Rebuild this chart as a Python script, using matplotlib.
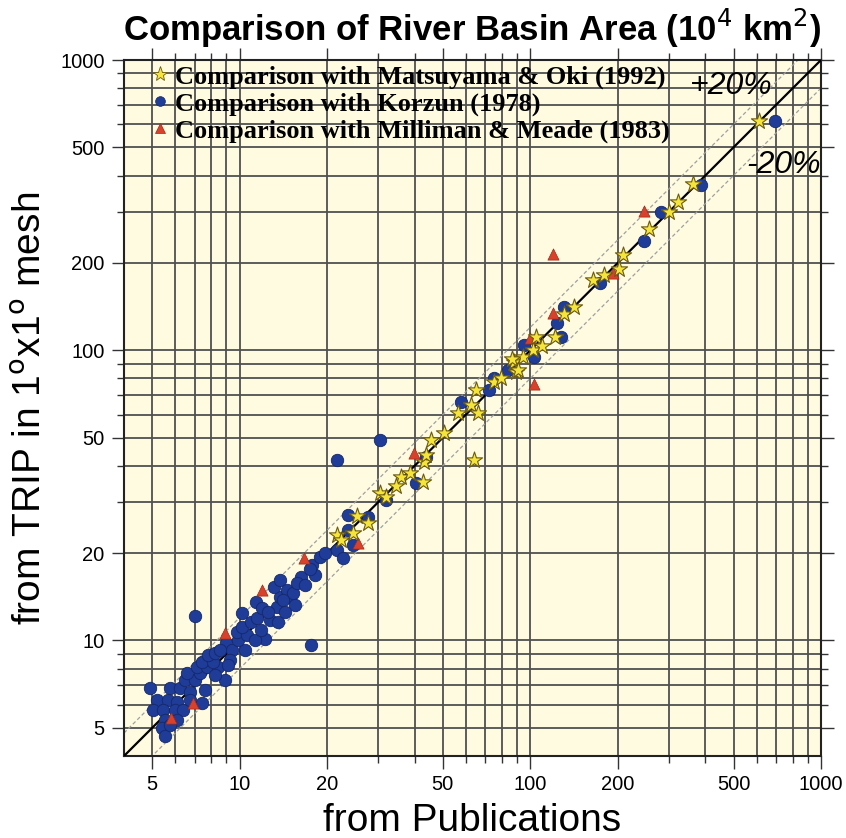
import matplotlib
matplotlib.use('Agg')
import matplotlib.pyplot as plt
from matplotlib.ticker import FixedLocator, FixedFormatter, NullFormatter
from matplotlib.lines import Line2D
import numpy as np

# ---------------- data (10^4 km^2) ----------------
korzun_pub = [4.92, 5.2, 5.65, 6.1, 5.03, 5.43, 6.0, 6.4, 7.43, 5.54, 6.1, 5.4, 5.54,
              5.77, 6.24, 6.76, 6.49, 7.03, 8.92, 6.6, 7.31, 7.14, 7.73, 8.4, 7.43, 8.1,
              7.8, 8.24, 9.0, 9.43, 10.46, 9.9, 9.8, 10.6, 10.2, 10.2, 10.9, 11.5, 12.25,
              12.75, 13.5, 11.4, 11.9, 13.4, 13.8, 14.94, 13.1, 13.8, 14.6, 16.2, 18.2,
              17.8, 18.96, 21.7, 22.7, 23.5, 23.5, 7.03, 17.6, 21.6, 30.5, 15.2, 15.8,
              16.8, 9.28, 8.57, 11.3, 11.8, 14.1, 15.55, 6.76, 7.6, 8.24, 9.1, 5.77,
              12.5, 14.36, 27.7, 24.5, 40.3, 57.7, 72, 84, 95, 127, 124, 131, 173, 246,
              282, 385, 692, 43.6, 31.8, 103, 75, 17.5, 19.7]
korzun_trip = [6.87, 6.24, 6.24, 6.14, 5.77, 5.77, 5.77, 5.77, 6.1, 5.32, 5.32, 5.0, 4.7,
               6.87, 6.87, 6.65, 7.31, 7.31, 7.31, 7.73, 7.73, 8.1, 8.1, 8.1, 8.44, 8.44,
               8.92, 9.07, 9.8, 9.28, 9.28, 10.05, 10.7, 10.46, 11.15, 12.45, 11.6, 12.0,
               10.1, 11.8, 11.6, 13.6, 12.95, 13.06, 14.1, 14.1, 15.3, 16.2, 14.94, 16.55,
               16.8, 18.2, 19.4, 20.5, 19.2, 24.1, 27.1, 12.1, 9.66, 41.9, 49.2, 14.6,
               15.8, 15.55, 8.57, 9.28, 10.05, 10.88, 13.8, 13.27, 6.24, 6.76, 7.61, 8.24,
               5.11, 12.5, 12.5, 26.7, 21.4, 34.9, 66.1, 73.1, 85.7, 104, 111, 124, 141,
               170, 237, 299, 370, 614, 42.9, 30.5, 95, 80, 17.6, 20.0]

milliman_pub = [6.9, 8.92, 11.9, 16.6, 25.6, 39.8, 103, 120, 120, 193, 246, 100, 5.8]
milliman_trip = [6.1, 10.6, 14.9, 19.2, 21.7, 44.3, 76.4, 134, 214, 184, 301, 110, 5.4]

matsuyama_pub = [21.6, 24.6, 25.4, 27.7, 30.5, 31.8, 35.8, 38.7, 42.6, 42.9, 43.6, 45.4,
                 50.4, 56.3, 62.4, 66, 64.9, 63.9, 74.9, 79.2, 87.8, 89.2, 94.3, 102,
                 104.6, 110, 122, 131, 141, 164, 179, 202, 208, 256, 300, 323, 364, 610,
                 22.4, 86.5, 91, 34.5]
matsuyama_trip = [23.1, 23.5, 26.9, 25.4, 32.3, 31.2, 36.6, 37.9, 35.2, 41.2, 43.6, 49.2,
                  52, 61, 64.6, 61, 73.1, 41.9, 78, 80, 91.4, 84.4, 95, 100.5,
                  111.4, 103.5, 111.4, 133, 141, 175, 182, 190, 213, 261, 299, 325, 373, 614,
                  22.2, 93, 85.7, 34.0]

axis_min, axis_max = 4, 1000
major_ticks = [5, 10, 20, 50, 100, 200, 500, 1000]
major_labels = ['5', '10', '20', '50', '100', '200', '500', '1000']
minor_ticks = [6, 7, 8, 9, 30, 40, 60, 70, 80, 90, 300, 400, 600, 700, 800, 900]
band_factors = [1.2, 0.8]

# ---------------- figure ----------------
sans = 'Liberation Sans'
serif = 'Liberation Serif'
fig = plt.figure(figsize=(8.46, 8.38), dpi=100)
ax = fig.add_axes([124 / 846, 82 / 838, 697 / 846, 696 / 838])
ax.set_facecolor('#FEFBE1')
ax.set_xscale('log')
ax.set_yscale('log')
ax.set_xlim(axis_min, axis_max)
ax.set_ylim(axis_min, axis_max)

for axis in (ax.xaxis, ax.yaxis):
    axis.set_major_locator(FixedLocator(major_ticks))
    axis.set_major_formatter(FixedFormatter(major_labels))
    axis.set_minor_locator(FixedLocator(minor_ticks))
    axis.set_minor_formatter(NullFormatter())

ax.grid(True, which='both', color='#505050', linewidth=1.3, zorder=0)
ax.set_axisbelow(True)
ax.tick_params(which='both', direction='out', top=True, right=True, color='#333333')
ax.tick_params(which='major', length=9, width=1.0, labelsize=14.5, pad=5)
ax.tick_params(which='minor', length=5, width=1.0)
for lab in ax.get_xticklabels() + ax.get_yticklabels():
    lab.set_fontfamily(sans)
for sp in ax.spines.values():
    sp.set_linewidth(1.5)
    sp.set_color('#222222')

# reference lines
ref = np.array([axis_min, axis_max])
ax.plot(ref, ref, color='black', linewidth=1.6, zorder=3)
for f in band_factors:
    ax.plot(ref, ref * f, color='#a0a0a0', linewidth=0.9, linestyle=(0, (3, 2)), zorder=2)

# data
ax.scatter(korzun_pub, korzun_trip, s=80, marker='o', facecolor='#1E3C98',
           edgecolor='#15286a', linewidth=0.6, zorder=4)
ax.scatter(milliman_pub, milliman_trip, s=65, marker='^', facecolor='#D9412B',
           edgecolor='#9a2a1a', linewidth=0.5, zorder=5)
ax.scatter(matsuyama_pub, matsuyama_trip, s=150, marker='*', facecolor='#F5E43A',
           edgecolor='#6b5a10', linewidth=0.8, zorder=6)

ax.text(490, 816, '+20%', fontsize=23, style='italic', family=sans,
        ha='center', va='center', zorder=7)
ax.text(743, 436, '-20%', fontsize=23, style='italic', family=sans,
        ha='center', va='center', zorder=7)

handles = [
    Line2D([], [], linestyle='none', marker='*', markersize=11, markerfacecolor='#F5E43A',
           markeredgecolor='#6b5a10', markeredgewidth=0.6),
    Line2D([], [], linestyle='none', marker='o', markersize=7, markerfacecolor='#1E3C98',
           markeredgecolor='#15286a', markeredgewidth=0.5),
    Line2D([], [], linestyle='none', marker='^', markersize=7, markerfacecolor='#D9412B',
           markeredgecolor='#9a2a1a', markeredgewidth=0.5),
]
labels = ['Comparison with Matsuyama & Oki (1992)',
          'Comparison with Korzun (1978)',
          'Comparison with Milliman & Meade (1983)']
ax.legend(handles, labels, loc='upper left', bbox_to_anchor=(0.0367, 0.997),
          frameon=False, handlelength=0.6, handletextpad=0.25, labelspacing=0.12,
          borderpad=0.1, borderaxespad=0,
          prop={'family': serif, 'weight': 'bold', 'size': 19})

ax.set_xlabel('from Publications', fontsize=28, family=sans, labelpad=6)
ax.set_ylabel('from TRIP in 1$^\\mathrm{o}$x1$^\\mathrm{o}$ mesh', fontsize=28,
              family=sans, labelpad=8)
fig.text(ax.get_position().x0 + ax.get_position().width / 2, 1 - 28 / 838,
         'Comparison of River Basin Area (10$^4$ km$^2$)', fontsize=25,
         fontweight='bold', family=sans, ha='center', va='center')

fig.savefig('out.png', dpi=100)
